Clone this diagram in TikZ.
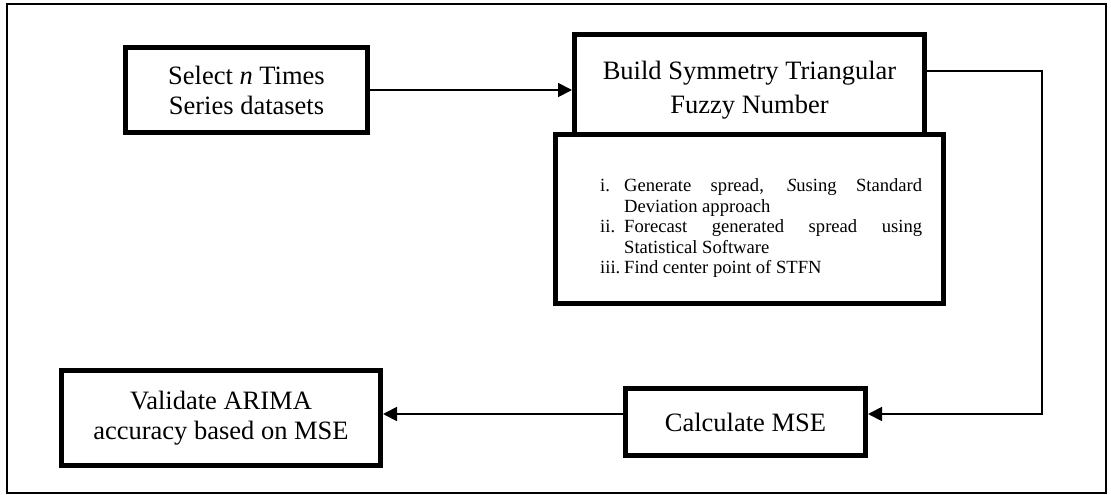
\documentclass[tikz,border=0pt]{standalone}
\usepackage{fontspec}
\setmainfont{Liberation Serif}
\usetikzlibrary{arrows.meta, positioning}

\newcommand{\stepline}[2]{\par\noindent\hangindent=24pt\hangafter=1\makebox[24pt][l]{#1}#2}

\begin{document}
\begin{tikzpicture}[x=1pt, y=-1pt,
    box/.style={draw, line width=5pt, fill=white, align=center, inner sep=0pt,
        font=\fontsize{26.5}{30}\selectfont},
    link/.style={line width=1.8pt, -{Triangle[length=14pt, width=14pt]}}]
    \useasboundingbox (0,0) rectangle (1111,495);
    % outer frame
    \draw[line width=2pt] (7,4) rectangle (1106,493);
    % process boxes
    \node[box, minimum width=242pt, minimum height=85pt] (select) at (246.5,90) {Select \textit{n} Times\\Series datasets};
    \node[box, minimum width=350pt, minimum height=111pt, font=\fontsize{26.5}{34}\selectfont] (build) at (749.5,90) {Build Symmetry Triangular\\Fuzzy Number};
    \node[box, minimum width=388pt, minimum height=169pt] (steps) at (749.5,219) {};
    \node[anchor=north west, text width=322pt, align=justify, inner sep=0pt,
        font=\fontsize{18.6}{20.5}\selectfont] (list) at (600,171) {\hyphenpenalty=10000\tolerance=10000
        \stepline{i.}{Generate spread, \textit{S}using Standard Deviation approach}
        \stepline{ii.}{Forecast generated spread using Statistical Software}
        \stepline{iii.}{Find center point of STFN}\par};
    \node[box, minimum width=240pt, minimum height=67pt] (calc) at (745.5,422) {Calculate MSE};
    \node[box, minimum width=319pt, minimum height=95pt] (valid) at (221,418) {Validate ARIMA\\accuracy based on MSE};
    % connectors
    \coordinate (turn) at (1042,71);
    \coordinate (drop) at (1042,414);
    \draw[link] (select) -- (build);
    \draw[link] (build.east |- turn) -- (turn) -- (drop) -- (drop -| calc.east);
    \draw[link] (drop -| calc.west) -- (drop -| valid.east);
\end{tikzpicture}
\end{document}
